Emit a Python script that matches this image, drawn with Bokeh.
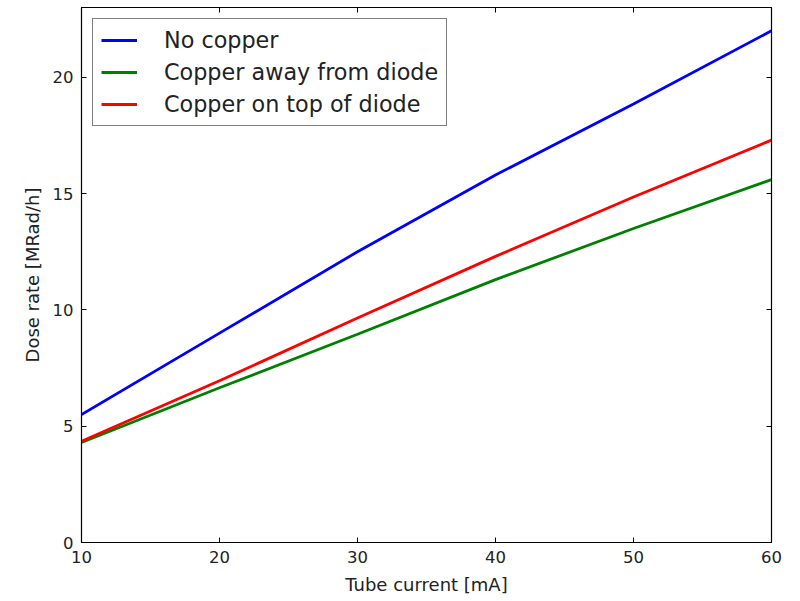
from bokeh.plotting import figure
from bokeh.models import Range1d, LinearAxis, FixedTicker, Legend, LegendItem
from bokeh.embed import file_html
from bokeh.resources import INLINE

# Data
current_mA = [10, 20, 30, 40, 50, 60]
no_copper = [5.5, 9.0, 12.5, 15.8, 18.85, 22.0]
copper_away = [4.3, 6.65, 8.95, 11.3, 13.5, 15.6]
copper_top = [4.35, 6.95, 9.65, 12.3, 14.85, 17.3]
x_ticks = [10, 20, 30, 40, 50, 60]
y_ticks = [0, 5, 10, 15, 20]

FONT = "DejaVu Sans"
TXT = "#222222"

p = figure(frame_width=690, frame_height=535, output_backend="svg",
           toolbar_location=None, x_range=Range1d(10, 60), y_range=Range1d(0, 23),
           min_border_left=81, min_border_top=7, min_border_right=20, min_border_bottom=40)
p.xgrid.visible = False
p.ygrid.visible = False
p.outline_line_color = "black"
p.outline_line_width = 1.2
p.background_fill_color = "white"
p.border_fill_color = "white"

r1 = p.line(current_mA, no_copper, line_color="#0000ff", line_width=2.8)
r2 = p.line(current_mA, copper_away, line_color="#008000", line_width=2.8)
r3 = p.line(current_mA, copper_top, line_color="#ff0000", line_width=2.8)

def style(ax, ticks, labels=True):
    ax.ticker = FixedTicker(ticks=ticks)
    ax.major_tick_in = 5
    ax.major_tick_out = 0
    ax.minor_tick_in = 0
    ax.minor_tick_out = 0
    ax.axis_line_color = "black"
    ax.major_tick_line_color = "black"
    ax.major_label_text_font = FONT
    ax.major_label_text_color = TXT
    if labels:
        ax.major_label_text_font_size = "16.5px"
        ax.major_label_standoff = 8
    else:
        ax.major_label_overrides = {t: "" for t in ticks}
        ax.major_label_text_font_size = "1px"
        ax.major_label_standoff = 0
    ax.axis_label_text_font = FONT
    ax.axis_label_text_font_size = "18px"
    ax.axis_label_text_font_style = "normal"
    ax.axis_label_text_color = TXT

style(p.xaxis[0], x_ticks)
style(p.yaxis[0], y_ticks)
p.xaxis[0].axis_label = "Tube current [mA]"
p.yaxis[0].axis_label = "Dose rate [MRad/h]"
p.xaxis[0].axis_label_standoff = 8
p.yaxis[0].axis_label_standoff = 7

top = LinearAxis()
style(top, x_ticks, labels=False)
p.add_layout(top, "above")
right = LinearAxis()
style(right, y_ticks, labels=False)
p.add_layout(right, "right")

legend = Legend(items=[LegendItem(label="No copper", renderers=[r1]),
                       LegendItem(label="Copper away from diode", renderers=[r2]),
                       LegendItem(label="Copper on top of diode", renderers=[r3])],
                location="top_left", margin=11, padding=8, spacing=6,
                label_height=22, glyph_height=22, glyph_width=36, label_standoff=27,
                label_text_font=FONT, label_text_font_size="22.3px", label_text_color=TXT,
                border_line_color="black", border_line_width=1.2,
                background_fill_alpha=1.0)
p.add_layout(legend, "center")

open("out.html", "w").write(file_html(p, INLINE))
